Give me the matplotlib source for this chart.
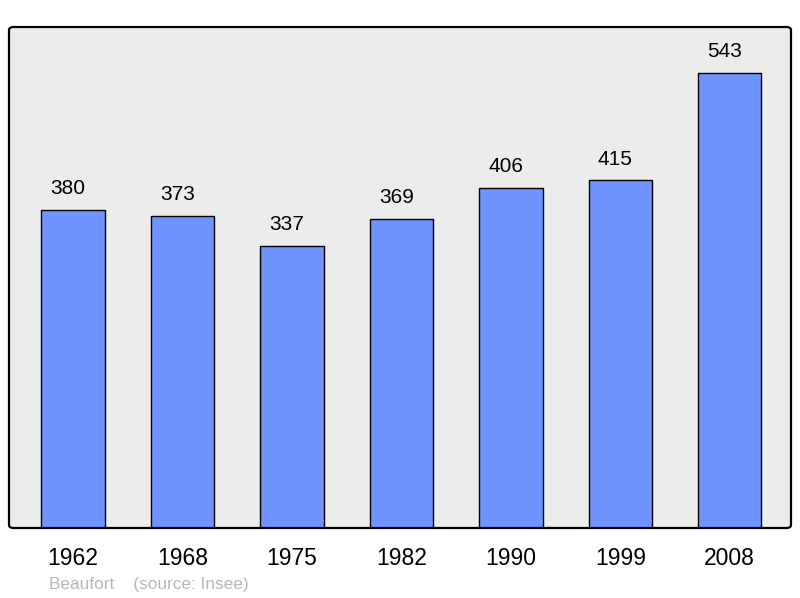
import matplotlib.pyplot as plt
from matplotlib.patches import FancyBboxPatch

plt.rcParams['font.family'] = ['Liberation Sans', 'DejaVu Sans']

# census years and population
years = ['1962', '1968', '1975', '1982', '1990', '1999', '2008']
population = [380, 373, 337, 369, 406, 415, 543]

fig = plt.figure(figsize=(8, 5.98), dpi=100)
ax = fig.add_axes([9 / 800, 70 / 598, 782 / 800, 501 / 598])
ax.set_facecolor('#ececec')

x = list(range(len(years)))
ax.bar(x, population, width=0.58, color='#7094ff', edgecolor='black', linewidth=1, zorder=2)

# value labels above bars
for xi, v in zip(x, population):
    ax.annotate(str(v), (xi, v), xytext=(-3.5, 15.3), textcoords='offset points',
                ha='center', va='center', fontsize=15)

ax.set_xlim(-0.585, 6.56)
ax.set_ylim(0, 598)
ax.set_xticks(x)
ax.set_xticklabels(years, fontsize=16.5)
ax.tick_params(axis='x', length=0, pad=13.5)
ax.set_yticks([])

# rounded black frame instead of spines
for s in ax.spines.values():
    s.set_visible(False)
frame = FancyBboxPatch((0, 0), 1, 1, boxstyle='round,pad=0,rounding_size=0.006',
                       transform=ax.transAxes, facecolor='none', edgecolor='black',
                       linewidth=1.6, zorder=5, clip_on=False)
ax.add_patch(frame)

fig.text(49 / 800, 1 - 584 / 598, 'Beaufort    (source: Insee)', color='#b8b8b8',
         fontsize=12.4, va='center', ha='left')

fig.savefig('out.png', dpi=100)
